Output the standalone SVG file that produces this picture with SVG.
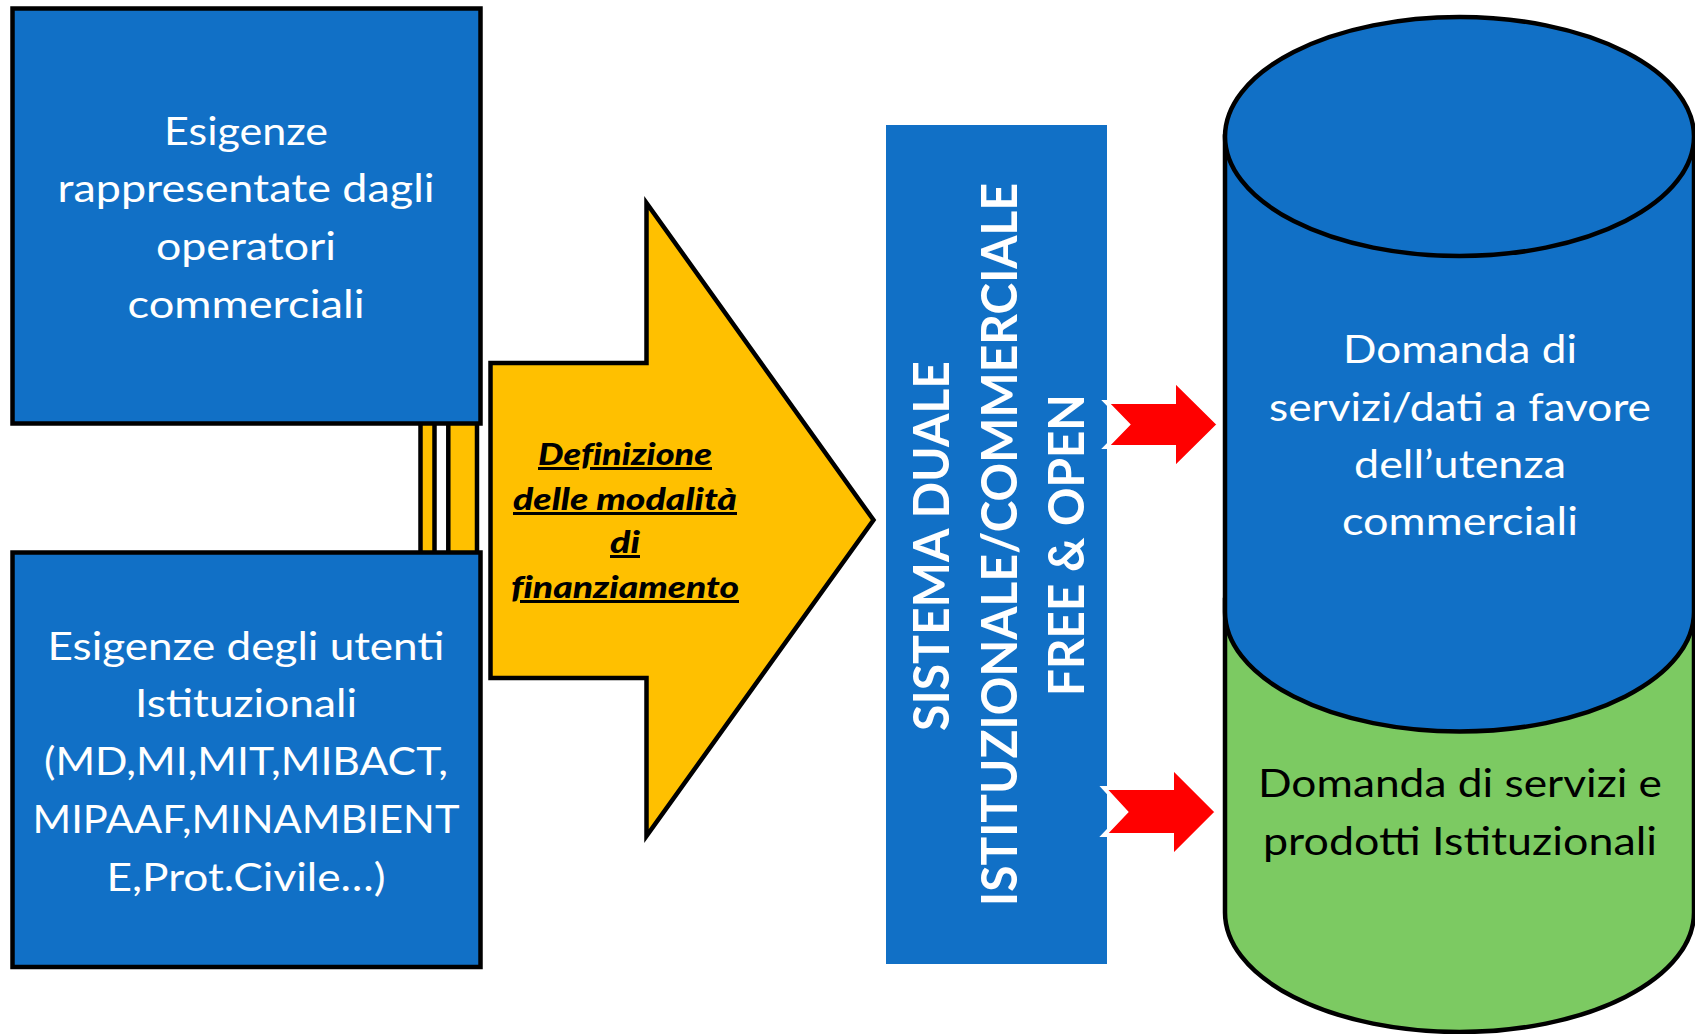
<svg xmlns="http://www.w3.org/2000/svg" width="1695" height="1034" viewBox="0 0 1695 1034">
<style>
.box{fill:#1170C6;stroke:#000;stroke-width:4.5}
.yel{fill:#FFC000;stroke:#000;stroke-width:4.5;stroke-linejoin:miter}
.red{fill:#FF0000;stroke:#FFFFFF;stroke-width:4;stroke-linejoin:miter;stroke-miterlimit:20}
.cyl{stroke:#000;stroke-width:4.5}
.t{font-family:Lato,"Noto Sans","Liberation Sans",sans-serif;font-size:38px;text-anchor:middle}
.w{fill:#FFFFFF}
.k{fill:#000000}
.v{font-family:Lato,"Noto Sans","Liberation Sans",sans-serif;font-size:50px;font-weight:bold;fill:#FFFFFF;text-anchor:middle}
.y{font-family:Lato,"Noto Sans","Liberation Sans",sans-serif;font-size:30px;font-weight:900;font-style:italic;fill:#000;text-anchor:middle;text-decoration:underline;font-variant-ligatures:none}
</style>
<rect width="1695" height="1034" fill="#FFFFFF"/>

<g id="finanziamento-arrow">
  <rect class="yel" x="420.5" y="363" width="14" height="315"/>
  <rect class="yel" x="448.3" y="363" width="28.7" height="315"/>
  <polygon class="yel" points="490.5,363 646.5,363 646.5,203 873.5,520 646.5,836 646.5,678 490.5,678"/>
  <text class="y" x="625" y="465" textLength="174" lengthAdjust="spacingAndGlyphs">Definizione</text>
  <text class="y" x="625" y="510" textLength="224" lengthAdjust="spacingAndGlyphs">delle modalità</text>
  <text class="y" x="625" y="553" textLength="30" lengthAdjust="spacingAndGlyphs">di</text>
  <text class="y" x="625" y="598" textLength="228" lengthAdjust="spacingAndGlyphs">finanziamento</text>
</g>

<g id="esigenze-commerciali">
  <rect class="box" x="12.5" y="8.5" width="468" height="415"/>
  <text class="t w" x="246" y="145" textLength="164" lengthAdjust="spacingAndGlyphs">Esigenze</text>
  <text class="t w" x="246" y="202" textLength="377" lengthAdjust="spacingAndGlyphs">rappresentate dagli</text>
  <text class="t w" x="246" y="260" textLength="180" lengthAdjust="spacingAndGlyphs">operatori</text>
  <text class="t w" x="246" y="318" textLength="237" lengthAdjust="spacingAndGlyphs">commerciali</text>
</g>

<g id="esigenze-istituzionali">
  <rect class="box" x="12.5" y="552.5" width="468" height="414.5"/>
  <text class="t w" x="246" y="660" textLength="397" lengthAdjust="spacingAndGlyphs">Esigenze degli utenti</text>
  <text class="t w" x="246" y="717" textLength="222" lengthAdjust="spacingAndGlyphs">Istituzionali</text>
  <text class="t w" x="246" y="775" textLength="404" lengthAdjust="spacingAndGlyphs">(MD,MI,MIT,MIBACT,</text>
  <text class="t w" x="246" y="833" textLength="427" lengthAdjust="spacingAndGlyphs">MIPAAF,MINAMBIENT</text>
  <text class="t w" x="246" y="891" textLength="279" lengthAdjust="spacingAndGlyphs">E,Prot.Civile…)</text>
</g>

<g id="sistema-duale">
  <rect x="886" y="125" width="221" height="839" fill="#1170C6"/>
  <text class="v" transform="translate(949,546) rotate(-90)" textLength="370" lengthAdjust="spacingAndGlyphs">SISTEMA DUALE</text>
  <text class="v" transform="translate(1017,544.5) rotate(-90)" textLength="723" lengthAdjust="spacingAndGlyphs">ISTITUZIONALE/COMMERCIALE</text>
  <text class="v" transform="translate(1084,545) rotate(-90)" textLength="302" lengthAdjust="spacingAndGlyphs">FREE &amp; OPEN</text>
</g>

<g id="domanda-istituzionali">
  <path class="cyl" fill="#7CCA62" d="M1225,600 L1225,912.5 A234.5,119.5 0 0 0 1694,912.5 L1694,600 Z"/>
  <text class="t k" x="1460" y="797" textLength="404" lengthAdjust="spacingAndGlyphs">Domanda di servizi e</text>
  <text class="t k" x="1460" y="855" textLength="394" lengthAdjust="spacingAndGlyphs">prodotti Istituzionali</text>
</g>

<g id="domanda-commerciali">
  <path class="cyl" fill="#1170C6" d="M1225,136.5 L1225,612 A234.5,119.5 0 0 0 1694,612 L1694,136.5 Z"/>
  <ellipse class="cyl" fill="#1170C6" cx="1459.5" cy="136.5" rx="234.5" ry="119.5"/>
  <text class="t w" x="1460" y="363" textLength="234" lengthAdjust="spacingAndGlyphs">Domanda di</text>
  <text class="t w" x="1460" y="421" textLength="382" lengthAdjust="spacingAndGlyphs">servizi/dati a favore</text>
  <text class="t w" x="1460" y="478" textLength="212" lengthAdjust="spacingAndGlyphs">dell’utenza</text>
  <text class="t w" x="1460" y="535" textLength="236" lengthAdjust="spacingAndGlyphs">commerciali</text>
</g>

<g id="connectors">
  <polygon class="red" points="1106,402 1174,402 1174,380 1219,424.5 1174,469 1174,447 1106,447 1128,424.5"/>
  <polygon class="red" points="1104,788 1172,788 1172,767 1217,812 1172,857 1172,835 1104,835 1126,812"/>
</g>
</svg>
